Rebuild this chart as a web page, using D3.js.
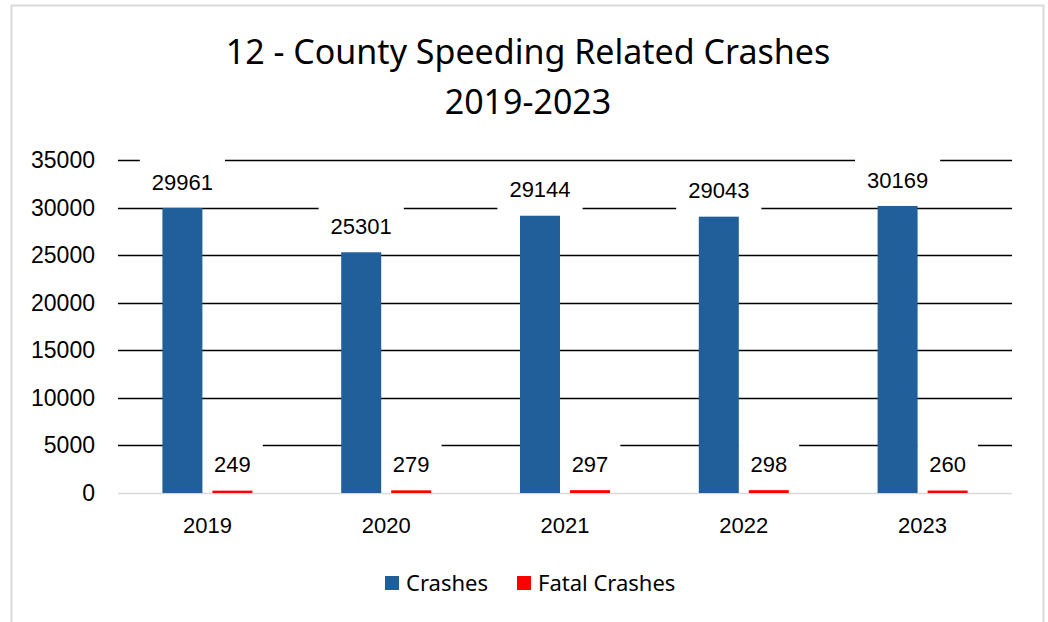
<!DOCTYPE html>
<html>
<head>
<meta charset="utf-8">
<script src="https://cdn.jsdelivr.net/npm/d3@7"></script>
<style>
  body { margin: 0; background: #fff; }
  text { font-family: "Liberation Sans", Arial, sans-serif; fill: #000; }
</style>
</head>
<body>
<svg id="chart" width="1048" height="622"></svg>
<script>
// data
const years = ["2019", "2020", "2021", "2022", "2023"];
const series = ["Crashes", "Fatal Crashes"];
const crashes = [29961, 25301, 29144, 29043, 30169];
const fatalCrashes = [249, 279, 297, 298, 260];
const yTicks = [0, 5000, 10000, 15000, 20000, 25000, 30000, 35000];
const colors = ["#215f9a", "#ff0000"];

const svg = d3.select("#chart");
const plot = { left: 118, right: 1012, top: 160, bottom: 493 };

// chart border
svg.append("rect")
  .attr("x", 11.5).attr("y", 5.5)
  .attr("width", 1032).attr("height", 630)
  .attr("fill", "#fff")
  .attr("stroke", "#d9d9d9")
  .attr("stroke-width", 2);

// title
const title = svg.append("text")
  .attr("x", 528)
  .attr("text-anchor", "middle")
  .style("font-family", "'Noto Sans', sans-serif")
  .style("font-size", "34px");
title.append("tspan").attr("x", 528).attr("y", 64).text("12 - County Speeding Related Crashes");
title.append("tspan").attr("x", 528).attr("y", 114).text("2019-2023");

const y = d3.scaleLinear().domain([0, 35000]).range([plot.bottom, plot.top]);
const x0 = d3.scaleBand().domain(years).range([plot.left, plot.right]);
const x1 = d3.scaleBand().domain(series)
  .range([x0.bandwidth() / 2 - 45, x0.bandwidth() / 2 + 45])
  .paddingInner(0.2);

// gridlines
svg.append("g")
  .selectAll("line")
  .data(yTicks)
  .join("line")
  .attr("x1", plot.left).attr("x2", plot.right)
  .attr("y1", d => Math.round(y(d)) + 0.5)
  .attr("y2", d => Math.round(y(d)) + 0.5)
  .attr("stroke", d => d === 0 ? "#d9d9d9" : "#000")
  .attr("stroke-width", d => d === 0 ? 1.5 : 1.6);

// y axis labels
svg.append("g")
  .selectAll("text")
  .data(yTicks)
  .join("text")
  .attr("x", 95)
  .attr("y", d => y(d))
  .attr("dy", "0.35em")
  .attr("text-anchor", "end")
  .style("font-size", "23px")
  .text(d => d);

// x axis labels
svg.append("g")
  .selectAll("text")
  .data(years)
  .join("text")
  .attr("x", d => x0(d) + x0.bandwidth() / 2)
  .attr("y", 525)
  .attr("dy", "0.35em")
  .attr("text-anchor", "middle")
  .style("font-size", "22px")
  .text(d => d);

const rows = years.map((yr, i) => ({
  year: yr,
  values: [
    { key: series[0], value: crashes[i], color: colors[0] },
    { key: series[1], value: fatalCrashes[i], color: colors[1] }
  ]
}));

const groups = svg.append("g")
  .selectAll("g")
  .data(rows)
  .join("g")
  .attr("transform", d => `translate(${x0(d.year)},0)`);

// data label boxes go under the bars, text above
const boxes = groups.selectAll("rect.box")
  .data(d => d.values)
  .join("rect")
  .attr("class", "box")
  .attr("fill", "#fff");

// bars
groups.selectAll("rect.bar")
  .data(d => d.values)
  .join("rect")
  .attr("class", "bar")
  .attr("x", d => x1(d.key))
  .attr("width", x1.bandwidth())
  .attr("y", d => y(d.value))
  .attr("height", d => Math.max(2, y(0) - y(d.value)))
  .attr("fill", d => d.color);

const labels = groups.selectAll("text.lbl")
  .data(d => d.values)
  .join("text")
  .attr("class", "lbl")
  .attr("x", d => x1(d.key) + x1.bandwidth() / 2)
  .attr("y", d => y(d.value) - 26)
  .attr("text-anchor", "middle")
  .attr("dy", "0.35em")
  .style("font-size", "22px")
  .text(d => d.value);

boxes.each(function (d, i) {
  const lbl = d3.select(this.parentNode).selectAll("text.lbl").nodes()[i];
  const w = lbl.getComputedTextLength();
  const cx = x1(d.key) + x1.bandwidth() / 2;
  d3.select(this)
    .attr("x", cx - w / 2 - 12)
    .attr("y", y(d.value) - 52)
    .attr("width", w + 24)
    .attr("height", 48);
});

// legend
const legend = svg.append("g").attr("transform", "translate(385,583)");
const legendX = [0, 132];
series.forEach((s, i) => {
  legend.append("rect")
    .attr("x", legendX[i]).attr("y", -7)
    .attr("width", 14).attr("height", 14)
    .attr("fill", colors[i]);
  legend.append("text")
    .attr("x", legendX[i] + 21)
    .attr("y", 0)
    .attr("dy", "0.35em")
    .style("font-family", "'Noto Sans', sans-serif")
    .style("font-size", "22px")
    .text(s);
});
</script>
</body>
</html>
